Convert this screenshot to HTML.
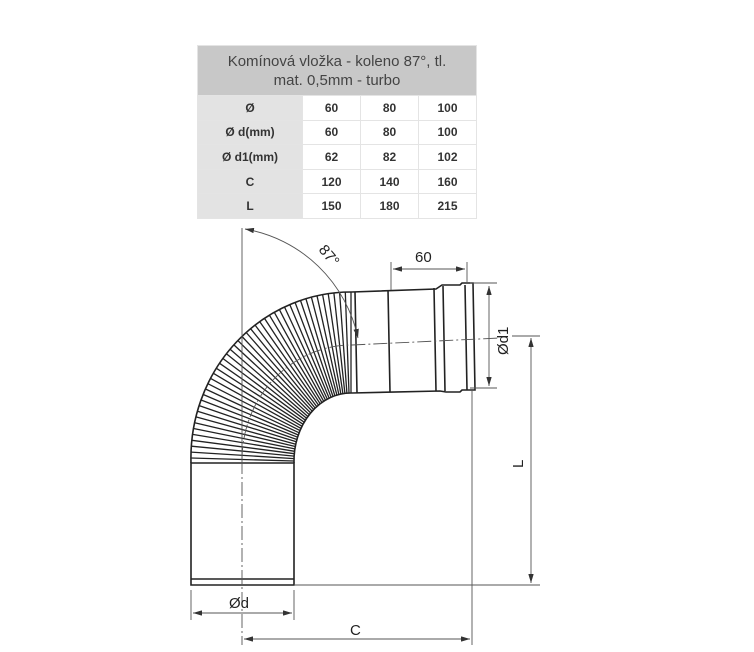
<!DOCTYPE html>
<html><head><style>
body{margin:0;background:#fff;width:754px;height:652px;overflow:hidden;font-family:"Liberation Sans",sans-serif}
table{position:absolute;left:197px;top:45px;border-collapse:collapse;width:280px}
td{border:1px solid #e4e4e4;text-align:center;font-weight:bold;font-size:12px;color:#333;height:23.6px;padding:0}
td.h{background:#c8c8c8;font-weight:normal;font-size:15px;color:#444;height:49px;line-height:19px}
td.l{background:#e3e3e3;width:104px}
</style></head><body>
<table>
<tr><td class="h" colspan="4">Komínová vložka - koleno 87°, tl.<br>mat. 0,5mm - turbo</td></tr>
<tr><td class="l">Ø</td><td>60</td><td>80</td><td>100</td></tr>
<tr><td class="l">Ø d(mm)</td><td>60</td><td>80</td><td>100</td></tr>
<tr><td class="l">Ø d1(mm)</td><td>62</td><td>82</td><td>102</td></tr>
<tr><td class="l">C</td><td>120</td><td>140</td><td>160</td></tr>
<tr><td class="l">L</td><td>150</td><td>180</td><td>215</td></tr>
</table>
<svg width="754" height="652" style="position:absolute;left:0;top:0" id="s">
<defs><marker id="a" viewBox="0 0 10 6" refX="10" refY="3" markerWidth="10" markerHeight="6" orient="auto-start-reverse"><path d="M0,0L10,3L0,6z" fill="#333"/></marker></defs>
<g fill="none" stroke="#222" stroke-width="1.6">
<path d="M191,463 V585 H294 V463 Z"/><path d="M191,579 H294"/>
<path d="M191,463 A160,166 0 0 1 352,292"/>
<path d="M294,463 A57,68 0 0 1 352,393"/>
<path d="M352,292 L436,289 L442,285 L460,285 L462,283 L473,283 L475,390 L462,390 L460,392 L446,392 L440,391 L352,393"/>
<path d="M388,290 L390,392 M434,288 L436,391 M443,286 L445,391 M465,285 L467,390 M355,292 L357,393"/>
<g id="c" stroke-width="1.3"></g>
</g>
<g stroke="#555" stroke-width="0.9" fill="none">
<path d="M242,460 V645" stroke-dasharray="14,3,2,3"/>
<path d="M242,228 V460"/>
<path d="M242,460 A110,115 0 0 1 352,345 L500,338" stroke-dasharray="14,3,2,3"/>
<path d="M294,585 H540 M512,336 H540 M472,390 V645 M470,283 H497 M470,388 H497 M391,262 V290 M467,262 V283 M191,590 V620 M294,590 V620"/>
<path d="M531,338 V583" marker-start="url(#a)" marker-end="url(#a)"/>
<path d="M489,286 V386" marker-start="url(#a)" marker-end="url(#a)"/>
<path d="M393,269 H465" marker-start="url(#a)" marker-end="url(#a)"/>
<path d="M193,613 H292" marker-start="url(#a)" marker-end="url(#a)"/>
<path d="M244,639 H470" marker-start="url(#a)" marker-end="url(#a)"/>
<path d="M245,229 A140,140 0 0 1 358,338" marker-start="url(#a)" marker-end="url(#a)"/>
</g>
<g font-family="Liberation Sans,sans-serif" font-size="15" fill="#222">
<text x="415" y="262">60</text>
<text x="229" y="608">Ød</text>
<text x="350" y="635">C</text>
<text transform="translate(523,468) rotate(-90)">L</text>
<text transform="translate(508,355) rotate(-90)">Ød1</text>
<text transform="translate(318,250) rotate(50)">87°</text>
</g>
</svg>
<script>
var g=document.getElementById('c'),s='';
for(var i=0;i<=44;i++){var t=Math.PI*(1+0.5*i/44);var c=Math.cos(t),n=Math.sin(t);
s+='<path d="M'+(351+57*c).toFixed(1)+','+(461+68*n).toFixed(1)+' L'+(351+160*c).toFixed(1)+','+(458+166*n).toFixed(1)+'"/>';}
g.innerHTML=s;
</script>
</body></html>
